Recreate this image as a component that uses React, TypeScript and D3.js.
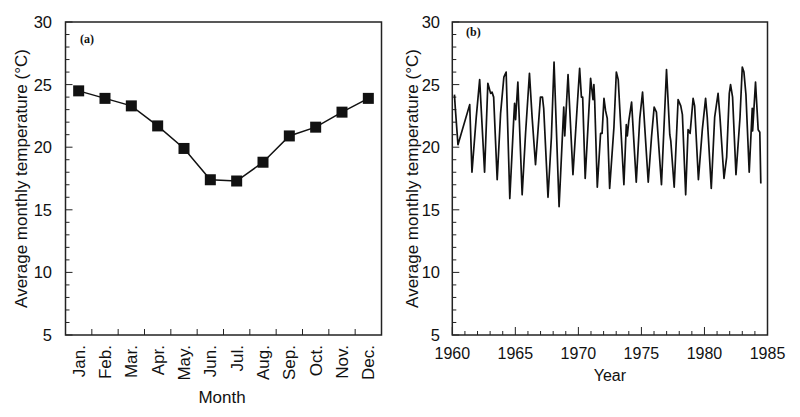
import React from 'react';
import * as d3 from 'd3';

const months = ['Jan.', 'Feb.', 'Mar.', 'Apr.', 'May.', 'Jun.', 'Jul.', 'Aug.', 'Sep.', 'Oct.', 'Nov.', 'Dec.'];
const monthlyTemp = [24.5, 23.9, 23.3, 21.7, 19.9, 17.4, 17.3, 18.8, 20.9, 21.6, 22.8, 23.9];
const tempTicks = [5, 10, 15, 20, 25, 30];
const yearTicks = [1960, 1965, 1970, 1975, 1980, 1985];

const seriesYears = [
  1960.17, 1960.24, 1960.45, 1961.38, 1961.56, 1961.9, 1962.17, 1962.56, 1962.82, 1963.04,
  1963.15, 1963.28, 1963.56, 1963.83, 1964.09, 1964.27, 1964.56, 1964.88, 1964.94, 1965.02,
  1965.2, 1965.54, 1965.81, 1966.12, 1966.33, 1966.6, 1966.99, 1967.15, 1967.25, 1967.59,
  1967.86, 1968.07, 1968.47, 1968.84, 1968.92, 1969.18, 1969.57, 1969.89, 1970.1, 1970.24,
  1970.34, 1970.54, 1970.97, 1971.16, 1971.23, 1971.29, 1971.5, 1971.76, 1971.88, 1972.03,
  1972.16, 1972.29, 1972.48, 1972.82, 1973.01, 1973.16, 1973.61, 1973.8, 1973.88, 1974.0,
  1974.22, 1974.59, 1974.87, 1975.09, 1975.27, 1975.54, 1975.8, 1976.01, 1976.19, 1976.59,
  1976.99, 1977.25, 1977.33, 1977.6, 1977.91, 1978.12, 1978.25, 1978.51, 1978.7, 1978.86,
  1979.1, 1979.22, 1979.52, 1979.83, 1980.09, 1980.22, 1980.54, 1980.81, 1981.08, 1981.23,
  1981.55, 1981.76, 1981.97, 1982.07, 1982.23, 1982.5, 1982.82, 1983.0, 1983.13, 1983.29,
  1983.55, 1983.79, 1983.82, 1984.05, 1984.26, 1984.39, 1984.47,
];
const seriesTemps = [
  24.2, 23.1, 20.2, 23.4, 18.0, 22.4, 25.4, 18.0, 25.1, 24.3,
  24.4, 24.0, 17.4, 22.7, 25.6, 26.0, 15.9, 22.4, 23.5, 22.2,
  25.2, 16.2, 21.1, 25.9, 22.4, 18.6, 24.0, 24.0, 23.1, 16.0,
  20.8, 26.8, 15.25, 23.2, 20.9, 25.8, 17.8, 23.0, 26.3, 24.0,
  24.0, 17.5, 25.5, 23.8, 25.0, 23.8, 16.8, 21.1, 21.1, 23.9,
  22.9, 22.3, 16.7, 21.6, 26.0, 25.4, 17.0, 21.8, 20.9, 22.1,
  23.6, 17.2, 22.3, 24.4, 21.5, 17.2, 20.8, 23.2, 22.8, 17.0,
  26.2, 21.0, 20.5, 16.8, 23.8, 23.3, 22.6, 16.2, 21.4, 21.1,
  23.9, 23.3, 17.4, 21.4, 23.9, 22.4, 16.7, 22.4, 24.3, 22.4,
  17.5, 19.2, 24.3, 25.0, 24.0, 17.8, 22.4, 26.4, 26.0, 24.2,
  18.0, 23.1, 21.3, 25.2, 21.4, 21.2, 17.1,
];

const FONT = '"Liberation Sans", Arial, sans-serif';
const TOP = 22;
const BOTTOM = 335;

export default function App() {
  const y = d3.scaleLinear().domain([5, 30]).range([BOTTOM, TOP]);
  const minorTemps = d3.range(5, 31, 1);

  // Panel (a)
  const aL = 65.5, aR = 381.5;
  const xa = d3.scaleBand<string>().domain(months).range([aL, aR]).paddingInner(0).paddingOuter(0);
  const lineA = d3.line<number>()
    .x((_, i) => (xa(months[i]) as number) + xa.bandwidth() / 2)
    .y((d) => y(d));

  // Panel (b)
  const bL = 452.3, bR = 767.5;
  const xb = d3.scaleLinear().domain([1960, 1985]).range([bL, bR]);
  const minorYears = d3.range(1960, 1986, 1);
  const lineB = d3.line<number>()
    .x((_, i) => xb(seriesYears[i]))
    .y((d) => y(d));

  const ms = 11;
  const tickFs = 16.5;
  const titleFs = 17;

  return (
    <svg width={800} height={417} style={{ position: 'absolute', left: 0, top: 0, background: '#fff' }}>
      <rect x={0} y={0} width={800} height={417} fill="#fff" />
      {/* Panel (a) */}
      <g>
        {minorTemps.map((t) => (
          <line key={'am' + t} x1={aL} x2={aL + (t % 5 === 0 ? 7 : 4)} y1={y(t)} y2={y(t)} stroke="#222" strokeWidth={1} />
        ))}
        {months.slice(1).map((m) => (
          <line key={'at' + m} x1={xa(m)} x2={xa(m)} y1={BOTTOM} y2={BOTTOM - 6} stroke="#222" strokeWidth={1} />
        ))}
        {tempTicks.map((t) => (
          <text key={'al' + t} x={52} y={y(t)} dy="0.36em" textAnchor="end" fontFamily={FONT} fontSize={tickFs} fill="#111">{t}</text>
        ))}
        {months.map((m) => {
          const cx = (xa(m) as number) + xa.bandwidth() / 2;
          return (
            <text key={'ax' + m} transform={`translate(${cx + 6},${345}) rotate(-90)`} textAnchor="end" fontFamily={FONT} fontSize={17} fill="#111">{m}</text>
          );
        })}
        <path d={lineA(monthlyTemp) || ''} fill="none" stroke="#111" strokeWidth={1.5} />
        {monthlyTemp.map((v, i) => {
          const cx = (xa(months[i]) as number) + xa.bandwidth() / 2;
          return <rect key={'sq' + i} x={cx - ms / 2} y={y(v) - ms / 2} width={ms} height={ms} fill="#111" />;
        })}
        <rect x={aL} y={TOP} width={aR - aL} height={BOTTOM - TOP} fill="none" stroke="#222" strokeWidth={1.5} />
        <text x={80} y={43} fontFamily='"Liberation Serif", serif' fontWeight="bold" fontSize={12} fill="#111">(a)</text>
        <text transform={`translate(${27},${(TOP + BOTTOM) / 2}) rotate(-90)`} textAnchor="middle" fontFamily={FONT} fontSize={titleFs} fill="#111">Average monthly temperature (°C)</text>
        <text x={222} y={403} textAnchor="middle" fontFamily={FONT} fontSize={titleFs} fill="#111">Month</text>
      </g>
      {/* Panel (b) */}
      <g>
        {minorTemps.map((t) => (
          <line key={'bm' + t} x1={bL} x2={bL + (t % 5 === 0 ? 7 : 4)} y1={y(t)} y2={y(t)} stroke="#222" strokeWidth={1} />
        ))}
        {minorYears.map((yr) => (
          <line key={'bt' + yr} x1={xb(yr)} x2={xb(yr)} y1={BOTTOM} y2={BOTTOM - (yr % 5 === 0 ? 8 : 4)} stroke="#222" strokeWidth={1} />
        ))}
        {tempTicks.map((t) => (
          <text key={'bl' + t} x={440} y={y(t)} dy="0.36em" textAnchor="end" fontFamily={FONT} fontSize={tickFs} fill="#111">{t}</text>
        ))}
        {yearTicks.map((yr) => (
          <text key={'bx' + yr} x={xb(yr)} y={359} textAnchor="middle" fontFamily={FONT} fontSize={16} fill="#111">{yr}</text>
        ))}
        <path d={lineB(seriesTemps) || ''} fill="none" stroke="#111" strokeWidth={1.7} strokeLinejoin="round" />
        <rect x={bL} y={TOP} width={bR - bL} height={BOTTOM - TOP} fill="none" stroke="#222" strokeWidth={1.5} />
        <text x={466} y={36} fontFamily='"Liberation Serif", serif' fontWeight="bold" fontSize={12} fill="#111">(b)</text>
        <text transform={`translate(${418},${(TOP + BOTTOM) / 2}) rotate(-90)`} textAnchor="middle" fontFamily={FONT} fontSize={titleFs} fill="#111">Average monthly temperature (°C)</text>
        <text x={(bL + bR) / 2} y={381} textAnchor="middle" fontFamily={FONT} fontSize={16} fill="#111">Year</text>
      </g>
    </svg>
  );
}
